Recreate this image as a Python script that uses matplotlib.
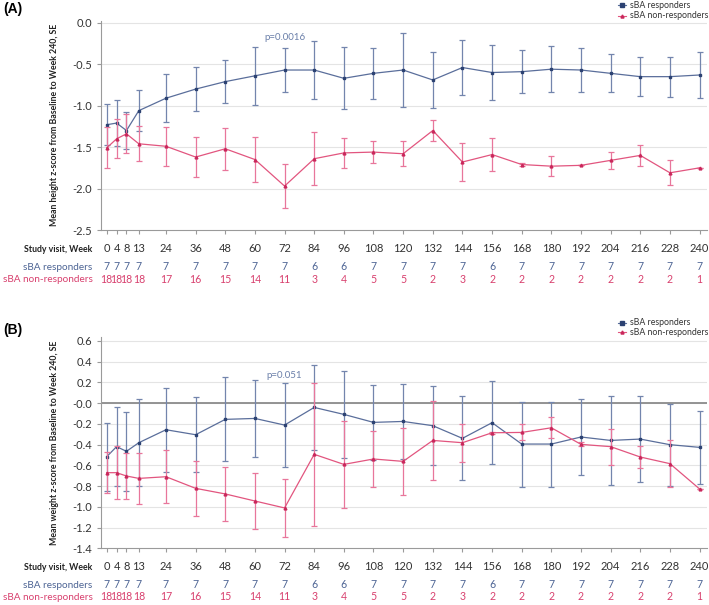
import matplotlib
matplotlib.use("Agg")
import matplotlib.pyplot as plt
from matplotlib.lines import Line2D
from matplotlib.transforms import blended_transform_factory
import numpy as np

plt.rcParams['font.family'] = ['Lato', 'DejaVu Sans']

weeks = [0, 4, 8, 13, 24, 36, 48, 60, 72, 84, 96, 108, 120, 132, 144, 156, 168, 180, 192, 204, 216, 228, 240]
week_labels = [str(w) for w in weeks]

# Panel A: height z-score
height_resp_mean = [-1.23, -1.21, -1.30, -1.06, -0.91, -0.80, -0.71, -0.64, -0.57, -0.57, -0.67, -0.61, -0.57, -0.69,
                    -0.54, -0.60, -0.59, -0.56, -0.57, -0.61, -0.65, -0.65, -0.63]
height_resp_se = [0.245, 0.275, 0.22, 0.248, 0.29, 0.266, 0.262, 0.353, 0.266, 0.35, 0.374, 0.31, 0.45, 0.34,
                  0.328, 0.332, 0.258, 0.276, 0.26, 0.23, 0.234, 0.242, 0.276]
height_nonresp_mean = [-1.51, -1.40, -1.34, -1.46, -1.49, -1.62, -1.52, -1.65, -1.97, -1.64, -1.57, -1.56, -1.58, -1.30,
                       -1.68, -1.59, -1.71, -1.73, -1.72, -1.66, -1.60, -1.81, -1.75]
height_nonresp_se = [0.248, 0.234, 0.236, 0.21, 0.238, 0.242, 0.254, 0.272, 0.264, 0.318, 0.179, 0.136, 0.15, 0.128,
                     0.226, 0.2, 0.015, 0.118, 0.0, 0.102, 0.13, 0.15, 0.0]

# Panel B: weight z-score
weight_resp_mean = [-0.517, -0.42, -0.465, -0.382, -0.257, -0.305, -0.157, -0.148, -0.212, -0.042, -0.109, -0.186,
                    -0.177, -0.218, -0.34, -0.189, -0.395, -0.395, -0.327, -0.36, -0.347, -0.401, -0.427]
weight_resp_se = [0.328, 0.383, 0.38, 0.421, 0.403, 0.363, 0.405, 0.369, 0.401, 0.412, 0.418, 0.363, 0.363, 0.382,
                  0.406, 0.398, 0.41, 0.41, 0.37, 0.425, 0.417, 0.394, 0.35]
weight_nonresp_mean = [-0.671, -0.671, -0.703, -0.726, -0.71, -0.822, -0.876, -0.944, -1.011, -0.494, -0.591, -0.539,
                       -0.562, -0.36, -0.382, -0.286, -0.283, -0.238, -0.398, -0.42, -0.52, -0.584, -0.828]
weight_nonresp_se = [0.2, 0.253, 0.226, 0.248, 0.257, 0.262, 0.26, 0.27, 0.276, 0.689, 0.422, 0.267, 0.326, 0.382,
                     0.185, 0.01, 0.077, 0.101, 0.02, 0.174, 0.105, 0.225, 0.0]

n_resp = [7, 7, 7, 7, 7, 7, 7, 7, 7, 6, 6, 7, 7, 7, 7, 6, 7, 7, 7, 7, 7, 7, 7]
n_nonresp = [18, 18, 18, 18, 17, 16, 15, 14, 11, 3, 4, 5, 5, 2, 3, 2, 2, 2, 2, 2, 2, 2, 1]

series_names = ["sBA responders", "sBA non-responders"]
p_values = ["p=0.0016", "p=0.051"]
ylabels = ["Mean height z-score from Baseline to Week 240, SE",
           "Mean weight z-score from Baseline to Week 240, SE"]
panel_labels = ["(A)", "(B)"]

W, H = 709, 605
fig = plt.figure(figsize=(W / 100, H / 100), dpi=100)

BLUE_LINE = '#5a6e9b'
BLUE_MARK = '#2c4272'
BLUE_ERR = '#7385ad'
BLUE_TXT = '#4d6494'
RED_LINE = '#e2557f'
RED_MARK = '#c9275b'
RED_ERR = '#e8769b'
RED_TXT = '#d8406e'
GRID = '#e4e4e4'
SPINE = '#9a9a9a'


def fy(px):
    return 1 - px / H


def fx(px):
    return px / W


def draw_panel(rect, ylim, yticks, ymt, yse, nm, nse, pval, p_y, ylabel, rows_y, zero_line, plabel, plabel_y,
               leg_y):
    ax = fig.add_axes(rect)
    ax.set_xlim(-2.43, 242.8)
    ax.set_ylim(*ylim)
    ax.set_yticks(yticks)
    ax.set_yticklabels([f"{t:.1f}" for t in yticks])
    ax.set_xticks(weeks)
    ax.set_xticklabels([])
    for s in ['top', 'right']:
        ax.spines[s].set_visible(False)
    for s in ['left', 'bottom']:
        ax.spines[s].set_color(SPINE)
        ax.spines[s].set_linewidth(0.8)
    ax.tick_params(axis='both', length=3, width=0.8, color=SPINE, labelsize=8, labelcolor='#333333', pad=3)
    for t in yticks:
        if t == yticks[0]:
            continue
        ax.axhline(t, color=GRID, lw=0.8, zorder=0)
    if zero_line:
        ax.axhline(0, color='#8c8c8c', lw=1.3, zorder=1)

    ax.errorbar(weeks, ymt, yerr=yse, color=BLUE_LINE, ecolor=BLUE_ERR, elinewidth=0.9, capsize=2.3, capthick=0.9,
                lw=0.9, marker='s', ms=1.6, mfc=BLUE_MARK, mec=BLUE_MARK, zorder=3)
    ax.errorbar(weeks, nm, yerr=nse, color=RED_LINE, ecolor=RED_ERR, elinewidth=0.9, capsize=2.3, capthick=0.9,
                lw=0.9, marker='^', ms=2.0, mfc=RED_MARK, mec=RED_MARK, zorder=4)

    ax.text(72, p_y, pval, color='#6a7fa9', fontsize=7, ha='center', va='center')
    ax.set_ylabel(ylabel, fontsize=6.3, fontweight='bold', labelpad=10, color='#222222')

    tr = blended_transform_factory(ax.transData, fig.transFigure)
    y0, y1, y2 = rows_y
    for w, lab in zip(weeks, week_labels):
        ax.text(w, fy(y0), lab, transform=tr, ha='center', va='center', fontsize=8, color='#333333')
    for w, n in zip(weeks, n_resp):
        ax.text(w, fy(y1), str(n), transform=tr, ha='center', va='center', fontsize=7.6, color=BLUE_TXT)
    for w, n in zip(weeks, n_nonresp):
        ax.text(w, fy(y2), str(n), transform=tr, ha='center', va='center', fontsize=7.6, color=RED_TXT)
    fig.text(fx(92.5), fy(y0), "Study visit, Week", ha='right', va='center', fontsize=6.3, fontweight='bold',
             color='#222222')
    fig.text(fx(92.5), fy(y1), series_names[0], ha='right', va='center', fontsize=7.2, color=BLUE_TXT)
    fig.text(fx(92.5), fy(y2), series_names[1], ha='right', va='center', fontsize=7.2, color=RED_TXT)

    fig.text(fx(3), fy(plabel_y), plabel, ha='left', va='center', fontsize=10, fontweight='bold',
             family=['Liberation Sans', 'DejaVu Sans'])

    # legend
    for i, (name, lc, mc, mk) in enumerate([(series_names[0], BLUE_LINE, BLUE_MARK, 's'),
                                            (series_names[1], RED_LINE, RED_MARK, '^')]):
        yy = fy(leg_y[i])
        fig.add_artist(Line2D([fx(618), fx(626)], [yy, yy], color=lc, lw=0.8, transform=fig.transFigure))
        fig.add_artist(Line2D([fx(622)], [yy], marker=mk, ms=2.2, mfc=mc, mec=mc, lw=0,
                              transform=fig.transFigure))
        fig.text(fx(630), yy, name, ha='left', va='center', fontsize=6.3, color='#333333')
    return ax


# Panel A
draw_panel([fx(100.7), fy(230), fx(706.5) - fx(100.7), (230 - 20.7) / H], (-2.5, 0.025),
           [-2.5, -2.0, -1.5, -1.0, -0.5, 0.0], height_resp_mean, height_resp_se,
           height_nonresp_mean, height_nonresp_se, p_values[0], -0.18, ylabels[0], (249, 267, 279), False,
           panel_labels[0], 8.5, (5, 15.5))

# Panel B
draw_panel([fx(100.7), fy(548.3), fx(706.5) - fx(100.7), (548.3 - 336.7) / H], (-1.4, 0.64),
           list(np.round(np.arange(-1.4, 0.61, 0.2), 1)), weight_resp_mean, weight_resp_se,
           weight_nonresp_mean, weight_nonresp_se, p_values[1], 0.27, ylabels[1], (567, 585, 597), True,
           panel_labels[1], 330, (322.5, 332.5))

fig.savefig("out.png", dpi=100)
